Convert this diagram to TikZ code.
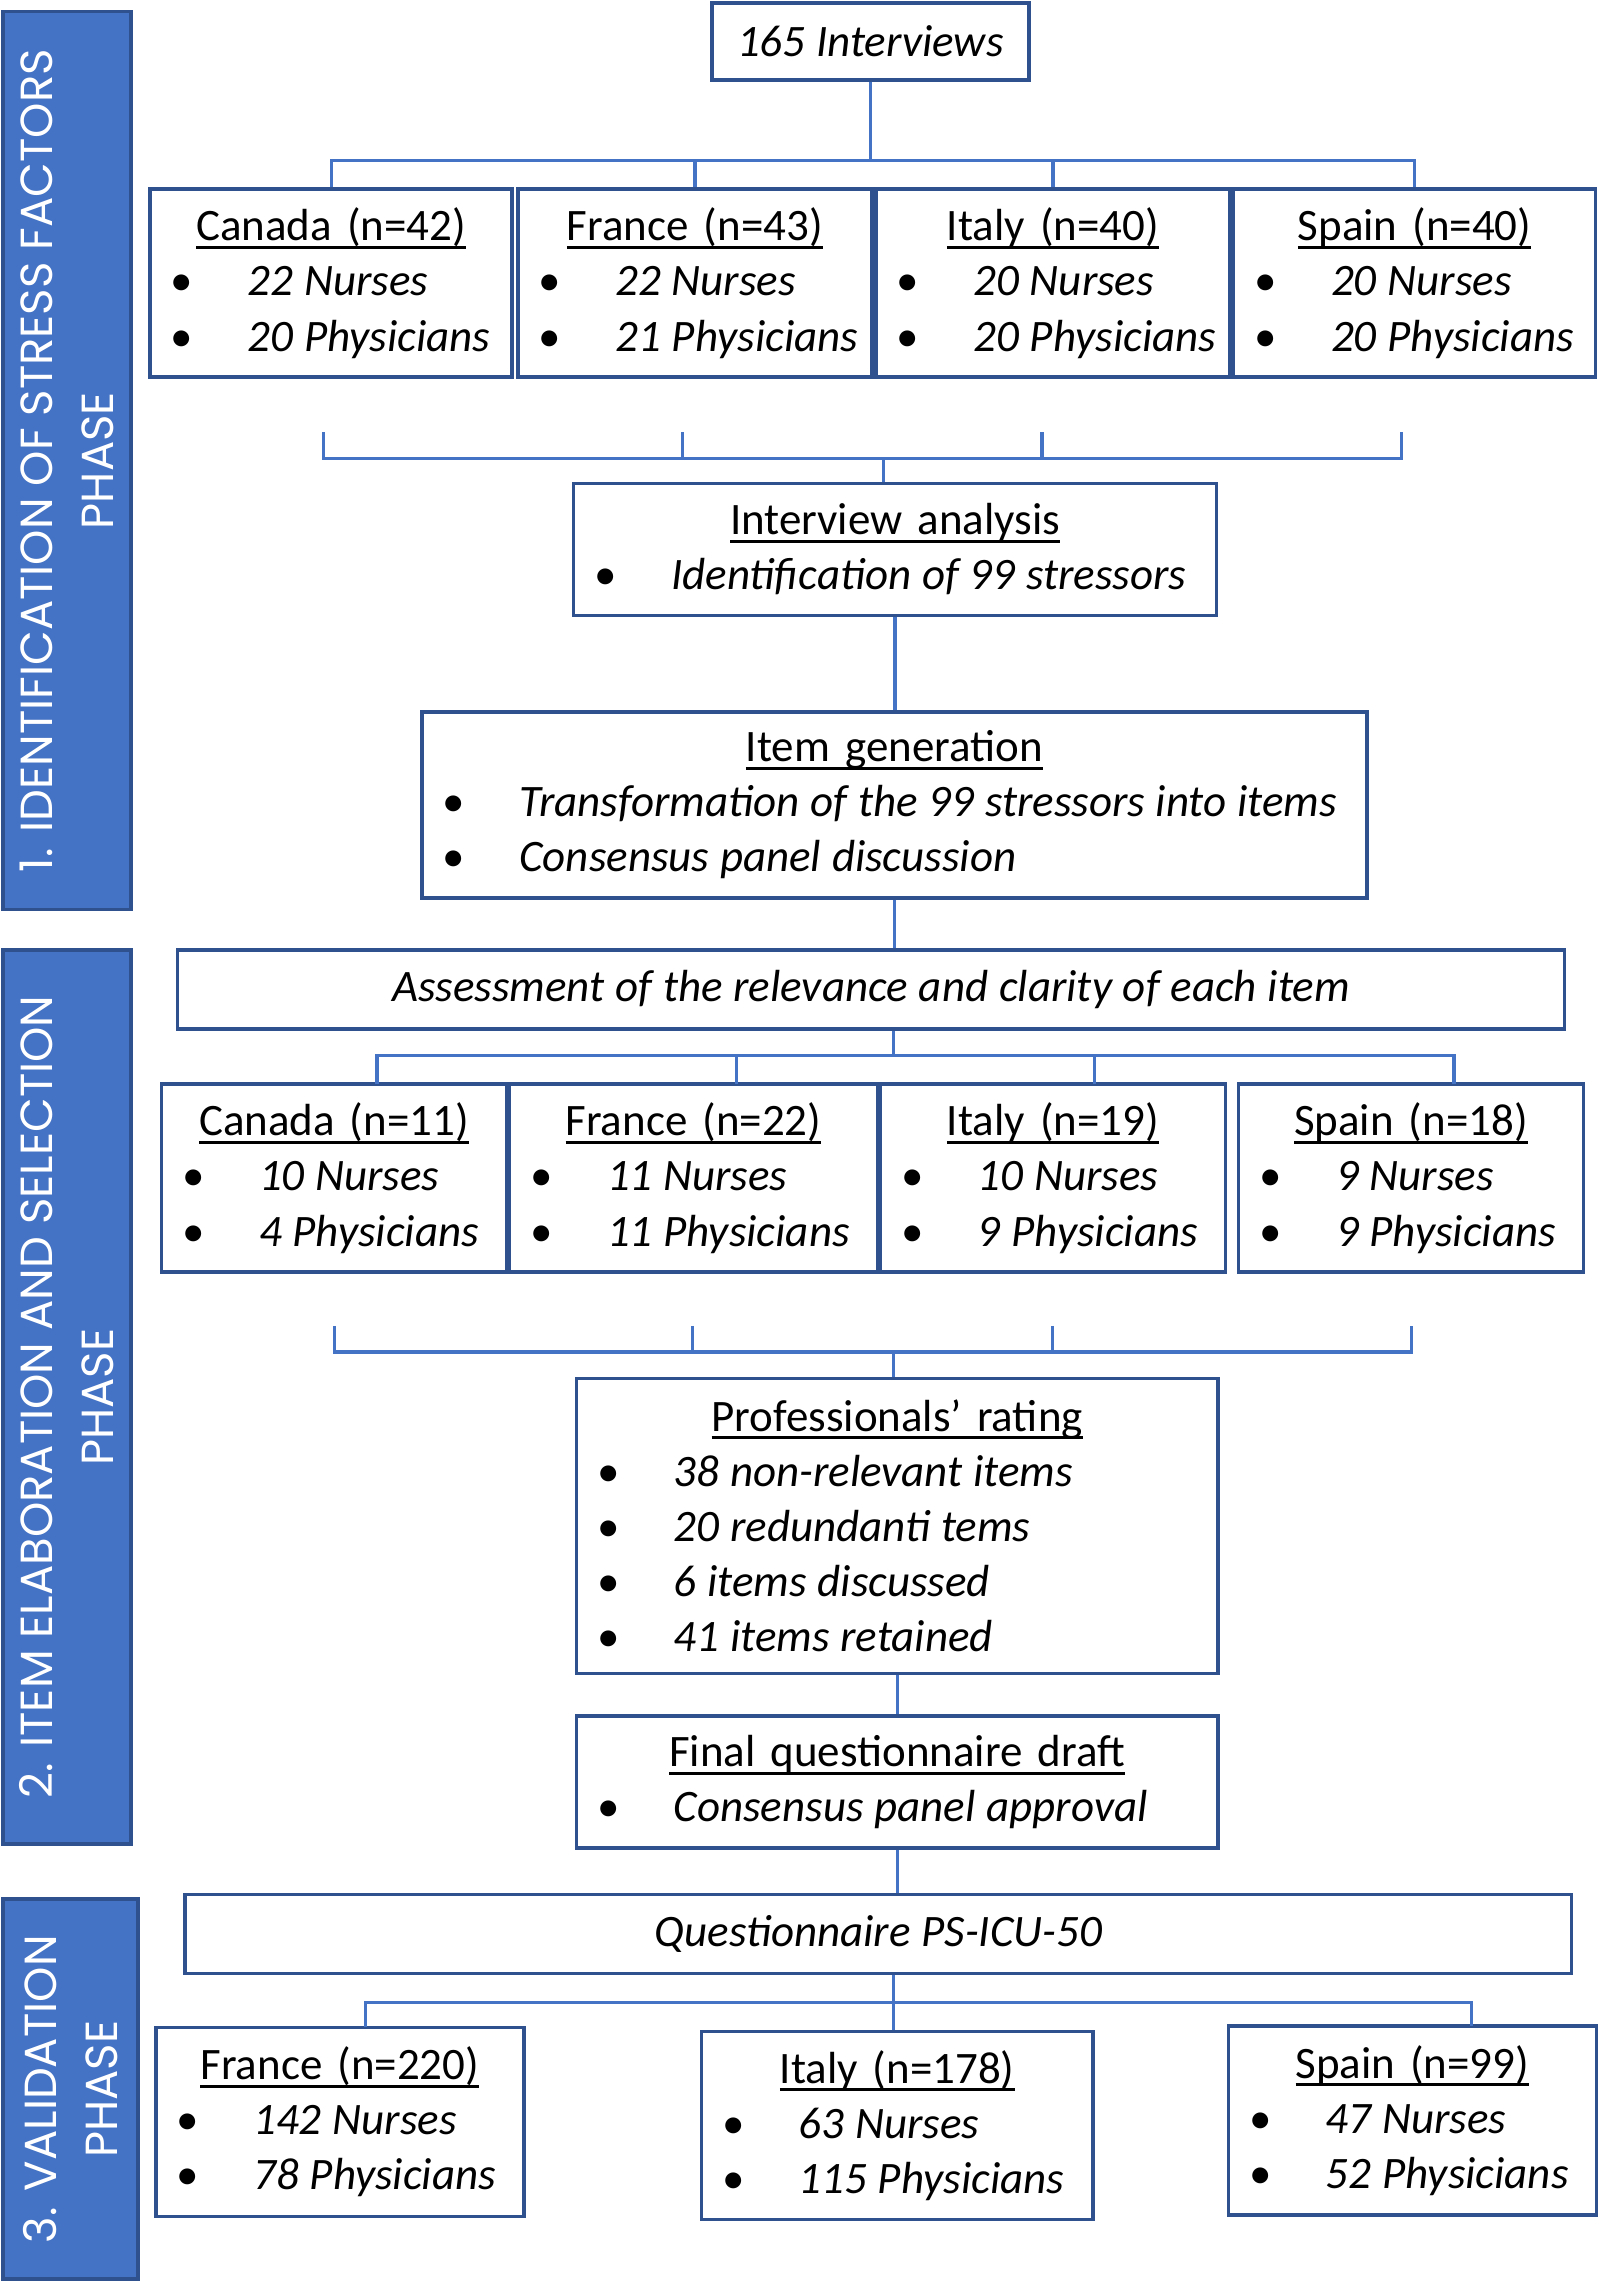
\documentclass[tikz,border=0pt]{standalone}
\usepackage{fontspec}
\setmainfont{Carlito}
\newfontfamily\phasefont{Poppins}

\definecolor{boxblue}{HTML}{2F528F}
\definecolor{lineblue}{HTML}{4472C4}

\newcommand{\itx}[1]{\textit{\spaceskip=0.24em\relax #1}}
\newcommand{\ctitle}[1]{\setbox0\hbox{#1}\rlap{\rule[-2.3pt]{\wd0}{0.85pt}}\box0}
\newcommand{\bul}[1]{\makebox[\hsize][l]{\hspace*{0.32cm}\makebox[0pt]{\textbullet}\hspace*{0.655cm}\itx{#1}}}

\tikzset{
	box/.style={draw=boxblue, line width=1pt, inner sep=0pt, align=center, minimum width=#1, text width=#1},
	phase/.style={draw=boxblue, fill=lineblue, line width=1pt, rotate=90, inner sep=0pt, text=white, align=center, font=\phasefont\fontsize{12.8}{17.3}\selectfont},
	conn/.style={draw=lineblue, line width=0.9pt}
}

\begin{document}
\begin{tikzpicture}[x=0.014554cm, y=-0.014554cm, font=\fontsize{12.8}{15.7}\selectfont]
	\useasboundingbox (0,0) rectangle (1098,1568);
	%phases
	\node[phase, minimum width=8.98cm, minimum height=1.28cm] (side1) at (46,316.5) {1. IDENTIFICATION OF STRESS FACTORS\\PHASE};
	\node[phase, minimum width=8.94cm, minimum height=1.28cm] (side2) at (46,960) {2. ITEM ELABORATION AND SELECTION\\PHASE};
	\node[phase, minimum width=3.80cm, minimum height=1.35cm] (side3) at (48.5,1435.5) {3. VALIDATION\\PHASE};
	
	%phase 1
	\node[box=3.17cm, minimum height=0.77cm] (interviews) at (598,28.5) {\itx{165 Interviews}};
	\node[box=3.62cm, minimum height=1.88cm] (canA) at (227.5,194.5) {\ctitle{Canada (n=42)}\\ \bul{22 Nurses}\\ \bul{20 Physicians}};
	\node[box=3.54cm, minimum height=1.88cm] (fraA) at (477.5,194.5) {\ctitle{France (n=43)}\\ \bul{22 Nurses}\\ \bul{21 Physicians}};
	\node[box=3.54cm, minimum height=1.88cm] (itaA) at (723.5,194.5) {\ctitle{Italy (n=40)}\\ \bul{20 Nurses}\\ \bul{20 Physicians}};
	\node[box=3.62cm, minimum height=1.88cm] (spaA) at (972,194.5) {\ctitle{Spain (n=40)}\\ \bul{20 Nurses}\\ \bul{20 Physicians}};
	\node[box=6.43cm, minimum height=1.32cm] (analysis) at (615,377.5) {\ctitle{Interview analysis}\\ \bul{Identification of 99 stressors}};
	\node[box=9.45cm, minimum height=1.86cm] (itemgen) at (614.5,553) {\ctitle{Item generation}\\ \bul{Transformation of the 99 stressors into items}\\ \bul{Consensus panel discussion}};
	
	%phase 2
	\node[box=13.87cm, minimum height=0.79cm] (assess) at (598.5,680) {\itx{Assessment of the relevance and clarity of each item}};
	\node[box=3.45cm, minimum height=1.88cm] (canB) at (229.5,809.5) {\ctitle{Canada (n=11)}\\ \bul{10 Nurses}\\ \bul{4 Physicians}};
	\node[box=3.68cm, minimum height=1.88cm] (fraB) at (476.5,809.5) {\ctitle{France (n=22)}\\ \bul{11 Nurses}\\ \bul{11 Physicians}};
	\node[box=3.45cm, minimum height=1.88cm] (itaB) at (723.5,809.5) {\ctitle{Italy (n=19)}\\ \bul{10 Nurses}\\ \bul{9 Physicians}};
	\node[box=3.45cm, minimum height=1.88cm] (spaB) at (969.5,809.5) {\ctitle{Spain (n=18)}\\ \bul{9 Nurses}\\ \bul{9 Physicians}};
	\node[box=6.42cm, minimum height=2.95cm] (rating) at (616.5,1048.5) {\ctitle{Professionals’ rating}\\ \bul{38 non-relevant items}\\ \bul{20 redundanti tems}\\ \bul{6 items discussed}\\ \bul{41 items retained}};
	\node[box=6.42cm, minimum height=1.32cm] (draft) at (616.5,1224.5) {\ctitle{Final questionnaire draft}\\ \bul{Consensus panel approval}};
	
	%phase 3
	\node[box=13.87cm, minimum height=0.79cm] (quest) at (603.5,1329) {\itx{Questionnaire PS-ICU-50}};
	\node[box=3.68cm, minimum height=1.89cm] (fraC) at (233.5,1458) {\ctitle{France (n=220)}\\ \bul{142 Nurses}\\ \bul{78 Physicians}};
	\node[box=3.92cm, minimum height=1.88cm] (itaC) at (616.5,1460.5) {\ctitle{Italy (n=178)}\\ \bul{63 Nurses}\\ \bul{115 Physicians}};
	\node[box=3.68cm, minimum height=1.89cm] (spaC) at (970.5,1457) {\ctitle{Spain (n=99)}\\ \bul{47 Nurses}\\ \bul{52 Physicians}};
	
	%connectors phase 1
	\coordinate (busA) at (598,110);
	\draw[conn] (interviews.south) -- (busA);
	\draw[conn] (canA.north) |- (busA) -| (spaA.north);
	\draw[conn] (fraA.north) -- (fraA.north |- busA);
	\draw[conn] (itaA.north) -- (itaA.north |- busA);
	\coordinate (brA) at (607,315);
	\foreach \x [count=\i] in {222,469,716,963}
	\coordinate (tA\i) at (\x,297);
	\draw[conn] (tA1) |- (brA) -| (tA4);
	\draw[conn] (tA2) -- (tA2 |- brA);
	\draw[conn] (tA3) -- (tA3 |- brA);
	\draw[conn] (brA) -- (brA |- analysis.north);
	\draw[conn] (analysis.south) -- (analysis.south |- itemgen.north);
	\draw[conn] (itemgen.south) -- (itemgen.south |- assess.north);
	
	%connectors phase 2
	\coordinate (busB) at (614,725);
	\draw[conn] (busB |- assess.south) -- (busB);
	\foreach \x [count=\i] in {259,506,752,999}
	\coordinate (dB\i) at (\x,745);
	\draw[conn] (dB1) |- (busB) -| (dB4);
	\draw[conn] (dB2) -- (dB2 |- busB);
	\draw[conn] (dB3) -- (dB3 |- busB);
	\coordinate (brB) at (614,929);
	\foreach \x [count=\i] in {230,476,723,970}
	\coordinate (tB\i) at (\x,911);
	\draw[conn] (tB1) |- (brB) -| (tB4);
	\draw[conn] (tB2) -- (tB2 |- brB);
	\draw[conn] (tB3) -- (tB3 |- brB);
	\draw[conn] (brB) -- (brB |- rating.north);
	\draw[conn] (rating.south) -- (draft.north);
	\draw[conn] (draft.south) -- (draft.south |- quest.north);
	
	%connectors phase 3
	\coordinate (busC) at (614,1376);
	\draw[conn] (busC |- quest.south) -- (busC);
	\coordinate (dC1) at (251,1393);
	\coordinate (dC3) at (1011,1392);
	\draw[conn] (dC1) |- (busC) -| (dC3);
	\draw[conn] (busC) -- (busC |- itaC.north);
\end{tikzpicture}
\end{document}
